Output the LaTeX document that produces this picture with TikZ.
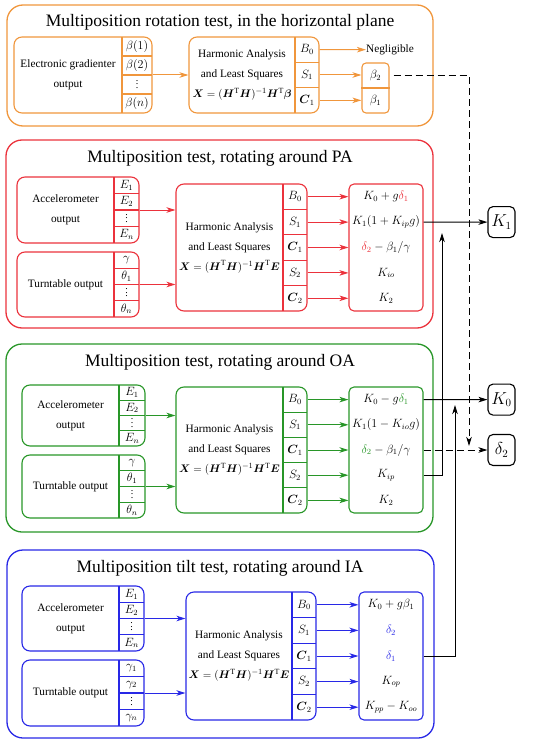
\documentclass[tikz,border=0pt]{standalone}
\usepackage{amsmath}
\usepackage{fontspec}
\setmainfont{Liberation Serif}
\usetikzlibrary{fit,arrows.meta}
\definecolor{cor}{RGB}{240,150,60}
\definecolor{cred}{RGB}{235,50,60}
\definecolor{cgrn}{RGB}{40,150,40}
\definecolor{cblu}{RGB}{40,40,230}
\def\secc{cor}
\newcommand\vdts{\vbox{\fontsize{10}{10}\selectfont\baselineskip=3.6pt\lineskiplimit=0pt\hbox{.}\hbox{.}\hbox{.}}}
\tikzset{
  outerbox/.style={draw=\secc, line width=1.3pt, rounded corners=16pt, inner sep=0pt},
  cbox/.style={draw=\secc, line width=1.1pt, rounded corners=8pt, inner sep=0pt},
  obox/.style={draw=\secc, line width=1.1pt, rounded corners=5pt, inner sep=0pt},
  ln/.style={draw=\secc, line width=1.1pt},
  arr/.style={draw=\secc, line width=1pt, -{Stealth[length=9pt,width=5.5pt,inset=2.5pt]}},
  karr/.style={draw=black, line width=1pt, -{Stealth[length=9pt,width=5.5pt,inset=2.5pt]}},
  darr/.style={draw=black, line width=1pt, dash pattern=on 7pt off 4pt, -{Stealth[length=9pt,width=5.5pt,inset=2.5pt]}},
  lbl/.style={font=\fontsize{11.3}{20}\selectfont, align=center, inner sep=0pt},
  ttl/.style={font=\fontsize{17.5}{20}\selectfont, inner sep=0pt},
  mth/.style={font=\fontsize{12}{13}\selectfont, inner sep=0pt},
  omth/.style={font=\fontsize{11.5}{13}\selectfont, inner sep=0pt},
  kbox/.style={draw=black, line width=1.1pt, rounded corners=5pt, minimum width=27pt, minimum height=31pt, inner sep=0pt, font=\fontsize{16}{18}\selectfont},
}
% input box: name, x1, y1, x2, y2, xdiv, text, 4 labels
\newcommand\inbox[8]{%
  \node[cbox, fit={(#2,#3) (#4,#5)}] (#1) {};
  \node[lbl] (#1t) at ({(#2+#6)/2},{(#3+#5)/2}) {#7};
  \draw[ln] (#6,#3) -- (#6,#5);
  \foreach \k in {1,2,3}{\draw[ln] (#6,{#3+\k*(#5-#3)/4}) -- (#4,{#3+\k*(#5-#3)/4});}
  \foreach \lab [count=\k] in {#8}{\node[mth] (#1c\k) at ({(#6+#4)/2},{#3+(\k-0.5)*(#5-#3)/4}) {$\lab$};}
}
% harmonic box: name, x1, y1, x2, y2, xdiv, nrows, labels, vector
\newcommand\harmbox[9]{%
  \node[cbox, fit={(#2,#3) (#4,#5)}] (#1) {};
  \node[lbl] (#1t) at ({(#2+#6)/2},{(#3+#5)/2}) {Harmonic Analysis\\and Least Squares\\$\boldsymbol{X}=(\boldsymbol{H}^{\mathrm{T}}\boldsymbol{H})^{-1}\boldsymbol{H}^{\mathrm{T}}\boldsymbol{#9}$};
  \draw[ln] (#6,#3) -- (#6,#5);
  \pgfmathtruncatemacro\nm{#7-1}
  \foreach \k in {1,...,\nm}{\draw[ln] (#6,{#3+\k*(#5-#3)/#7}) -- (#4,{#3+\k*(#5-#3)/#7});}
  \foreach \lab [count=\k] in {#8}{\node[mth] (#1c\k) at ({(#6+#4)/2},{#3+(\k-0.5)*(#5-#3)/#7}) {$\lab$};}
}
% output box: name, x1, y1, x2, y2, labels (5)
\newcommand\outbox[6]{%
  \node[obox, fit={(#2,#3) (#4,#5)}] (#1) {};
  \foreach \lab [count=\k] in {#6}{\node[omth] (#1c\k) at ({(#2+#4)/2},{#3+(\k-0.5)*(#5-#3)/5}) {$\lab$};}
}
\begin{document}
\begin{tikzpicture}[x=1pt,y=-1pt]
\useasboundingbox (0,0) rectangle (550,746);

% ---------------- horizontal plane (orange)
\def\secc{cor}
\node[outerbox, fit={(7,5) (433,126)}] (O1) {};
\node[ttl] (T1) at (220,22) {Multiposition rotation test, in the horizontal plane};
\inbox{G1}{14}{37}{152}{113}{122}{Electronic gradienter\\output}{\beta(1),\beta(2),\vdts,\beta(n)}
\harmbox{H1}{189}{37}{319}{113}{295}{3}{B_0,S_1,\boldsymbol{C}_1}{\beta}
\node[lbl] (N1) at (390,49.67) {Negligible};
\node[cbox, rounded corners=4pt, fit={(362,63) (389,113)}] (P1) {};
\draw[ln] (P1.west |- 0,88) -- (P1.east |- 0,88);
\node[mth] (P1a) at (375.5,75.5) {$\beta_2$};
\node[mth] (P1b) at (375.5,100.5) {$\beta_1$};
\draw[arr] (G1.east) -- (G1.east -| H1.west);
\draw[arr] (H1c1 -| H1.east) -- (N1.west);
\draw[arr] (H1c2 -| H1.east) -- (H1c2 -| P1.west);
\draw[arr] (H1c3 -| H1.east) -- (H1c3 -| P1.west);

% ---------------- PA (red)
\def\secc{cred}
\node[outerbox, fit={(6,140) (433,328)}] (O2) {};
\node[ttl] (T2) at (220,158) {Multiposition test, rotating around PA};
\inbox{A2}{17}{177}{139}{243}{114}{Accelerometer\\output}{E_1,E_2,\vdts,E_n}
\inbox{U2}{17}{252}{139}{317}{114}{Turntable output}{\gamma,\theta_1,\vdts,\theta_n}
\harmbox{H2}{176}{184}{307}{311}{283}{5}{B_0,S_1,\boldsymbol{C}_1,S_2,\boldsymbol{C}_2}{E}
\outbox{Q2}{349}{184}{423}{311}{K_0+g{\color{cred}\delta_1},K_1(1+K_{ip}g),{\color{cred}\delta_2}-\beta_1/\gamma,K_{io},K_2}
\draw[arr] (A2.east) -- (A2.east -| H2.west);
\draw[arr] (U2.east) -- (U2.east -| H2.west);
\foreach \k in {1,...,5}{\draw[arr] (H2c\k -| H2.east) -- (H2c\k -| Q2.west);}

% ---------------- OA (green)
\def\secc{cgrn}
\node[outerbox, fit={(6,344) (433,532)}] (O3) {};
\node[ttl] (T3) at (220,362) {Multiposition test, rotating around OA};
\inbox{A3}{22}{385}{145}{446}{119}{Accelerometer\\output}{E_1,E_2,\vdts,E_n}
\inbox{U3}{22}{455}{145}{518}{119}{Turntable output}{\gamma,\theta_1,\vdts,\theta_n}
\harmbox{H3}{176}{387}{307}{513}{283}{5}{B_0,S_1,\boldsymbol{C}_1,S_2,\boldsymbol{C}_2}{E}
\outbox{Q3}{349}{387}{423}{513}{K_0-g{\color{cgrn}\delta_1},K_1(1-K_{io}g),{\color{cgrn}\delta_2}-\beta_1/\gamma,K_{ip},K_2}
\draw[arr] (A3.east) -- (A3.east -| H3.west);
\draw[arr] (U3.east) -- (U3.east -| H3.west);
\foreach \k in {1,...,5}{\draw[arr] (H3c\k -| H3.east) -- (H3c\k -| Q3.west);}

% ---------------- IA (blue)
\def\secc{cblu}
\node[outerbox, fit={(7,550) (434,738)}] (O4) {};
\node[ttl] (T4) at (220,568) {Multiposition tilt test, rotating around IA};
\inbox{A4}{22}{586}{144}{651}{119}{Accelerometer\\output}{E_1,E_2,\vdts,E_n}
\inbox{U4}{22}{660}{144}{726}{119}{Turntable output}{\gamma_1,\gamma_2,\vdts,\gamma_n}
\harmbox{H4}{186}{592}{316}{720}{292}{5}{B_0,S_1,\boldsymbol{C}_1,S_2,\boldsymbol{C}_2}{E}
\outbox{Q4}{359}{592}{423}{720}{K_0+g\beta_1,{\color{cblu}\delta_2},{\color{cblu}\delta_1},K_{op},K_{pp}-K_{oo}}
\draw[arr] (A4.east) -- (A4.east -| H4.west);
\draw[arr] (U4.east) -- (U4.east -| H4.west);
\foreach \k in {1,...,5}{\draw[arr] (H4c\k -| H4.east) -- (H4c\k -| Q4.west);}

% ---------------- results
\node[kbox] (K1) at (501.5,222.1) {$K_1$};
\node[kbox] (K0) at (501.5,399.6) {$K_0$};
\node[kbox] (D2) at (501.5,450) {$\delta_2$};
\coordinate (dj) at (469,446);
\coordinate (u1) at (442,233);
\coordinate (u2) at (455,405);
\draw[karr] (Q2c2 -| Q2.east) -- (K1.west);
\draw[karr] (Q3c1 -| Q3.east) -- (K0.west);
\draw[karr] (Q3c4 -| Q3.east) -| (u1);
\draw[karr] (Q4c3 -| Q4.east) -| (u2);
\draw[darr, shorten <=4pt] (P1a -| P1.east) -| (dj);
\draw[darr] (Q3c3 -| Q3.east) -- (D2.west);
\end{tikzpicture}
\end{document}
